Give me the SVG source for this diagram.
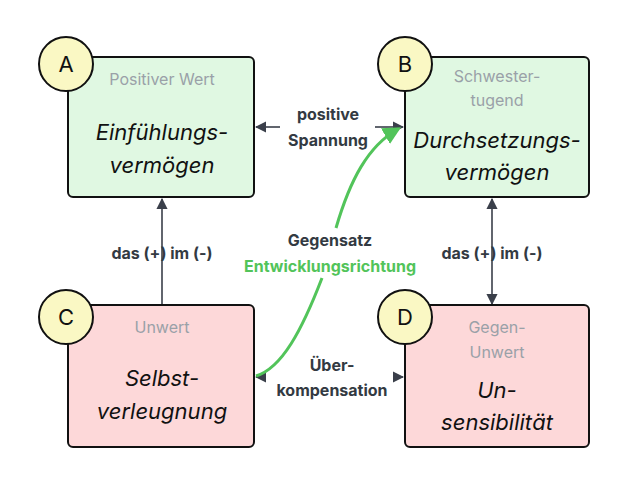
<svg xmlns="http://www.w3.org/2000/svg" width="623" height="489" viewBox="0 0 623 489">
<style>
.g{fill:#e0f8e2;stroke:#111;stroke-width:2}
.r{fill:#fdd8d9;stroke:#111;stroke-width:2}
.c{fill:#faf8c4;stroke:#111;stroke-width:2}
.ct{font:22px Inter,"Liberation Sans",sans-serif;fill:#111;text-anchor:middle}
.sub{font:16px Inter,"Liberation Sans",sans-serif;fill:#9aa1a8;text-anchor:middle}
.main{font:italic 22px Inter,"Liberation Sans",sans-serif;fill:#111;text-anchor:middle}
.lbl{font:bold 16px Inter,"Liberation Sans",sans-serif;fill:#333a42;text-anchor:middle}
.ln{stroke:#3a3f4a;stroke-width:1.6;fill:none}
</style>
<defs>
<marker id="ah" viewBox="0 0 10 10" refX="9" refY="5" markerWidth="7" markerHeight="7" orient="auto-start-reverse"><path d="M0,0L10,5L0,10z" fill="#3a3f4a"/></marker>
<marker id="gh" viewBox="0 0 10 10" refX="8" refY="5" markerWidth="6" markerHeight="6" orient="auto"><path d="M0,0L10,5L0,10z" fill="#52c45a"/></marker>
</defs>
<g id="connectors">
<path class="ln" d="M256 127H280" marker-start="url(#ah)"/>
<path class="ln" d="M375 127H403" marker-end="url(#ah)"/>
<path class="ln" d="M256 377H265" marker-start="url(#ah)"/>
<path class="ln" d="M393 377H403" marker-end="url(#ah)"/>
<path class="ln" d="M162 304V199" marker-end="url(#ah)"/>
<path class="ln" d="M492 199V304" marker-start="url(#ah)" marker-end="url(#ah)"/>
<path d="M256 376C282 368 302 330 322 278M336 228C350 180 368 146 398 129" fill="none" stroke="#52c45a" stroke-width="3" marker-end="url(#gh)"/>
<text class="lbl" x="328" y="120">positive</text>
<text class="lbl" x="328" y="146">Spannung</text>
<text class="lbl" x="162" y="259">das (+) im (-)</text>
<text class="lbl" x="492" y="259">das (+) im (-)</text>
<text class="lbl" x="330" y="246">Gegensatz</text>
<text class="lbl" x="330" y="272" style="fill:#52c45a">Entwicklungsrichtung</text>
<text class="lbl" x="332" y="371">Über-</text>
<text class="lbl" x="332" y="396">kompensation</text>
</g>
<g id="A"><rect class="g" x="68" y="57" width="186" height="140" rx="5"/><circle class="c" cx="66" cy="64" r="27"/><text class="ct" x="66" y="72">A</text><text class="sub" x="162" y="85">Positiver Wert</text><text class="main" x="162" y="140">Einfühlungs-</text><text class="main" x="162" y="173">vermögen</text></g>
<g id="B"><rect class="g" x="405" y="57" width="184" height="140" rx="5"/><circle class="c" cx="405" cy="64" r="27"/><text class="ct" x="405" y="72">B</text><text class="sub" x="497" y="82">Schwester-</text><text class="sub" x="497" y="106">tugend</text><text class="main" x="497" y="148">Durchsetzungs-</text><text class="main" x="497" y="180">vermögen</text></g>
<g id="C"><rect class="r" x="68" y="305" width="186" height="142" rx="5"/><circle class="c" cx="66" cy="317" r="27"/><text class="ct" x="66" y="325">C</text><text class="sub" x="162" y="333">Unwert</text><text class="main" x="162" y="386">Selbst-</text><text class="main" x="162" y="419">verleugnung</text></g>
<g id="D"><rect class="r" x="405" y="305" width="184" height="142" rx="5"/><circle class="c" cx="405" cy="317" r="27"/><text class="ct" x="405" y="325">D</text><text class="sub" x="497" y="333">Gegen-</text><text class="sub" x="497" y="358">Unwert</text><text class="main" x="497" y="398">Un-</text><text class="main" x="497" y="430">sensibilität</text></g>
</svg>
